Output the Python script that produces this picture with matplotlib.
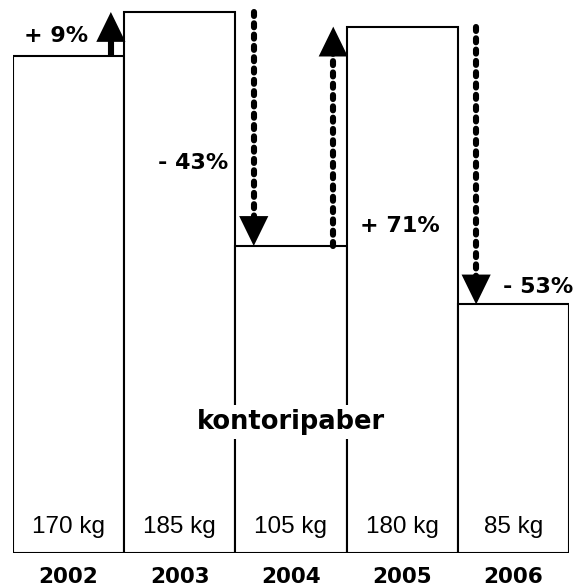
import matplotlib
matplotlib.use("Agg")
import matplotlib.pyplot as plt

years = ["2002", "2003", "2004", "2005", "2006"]
weights = [170, 185, 105, 180, 85]
weight_labels = ["170 kg", "185 kg", "105 kg", "180 kg", "85 kg"]
change_labels = ["+ 9%", "- 43%", "+ 71%", "- 53%"]
title_text = "kontoripaber"

W, H = 584, 588
fig = plt.figure(figsize=(W / 100, H / 100), dpi=100)
# axes spans the bars exactly: baseline at 553 px, 185 kg at 12 px from top
ax = fig.add_axes([13 / W, 35 / H, 556 / W, 553 / H])
px_per_kg = 541 / 185
ax.set_xlim(-0.5, 4.5)
ax.set_ylim(0, 553 / px_per_kg)
for s in ax.spines.values():
    s.set_visible(False)
ax.set_yticks([])

x = list(range(len(years)))
ax.bar(x, weights, width=1.0, color="white", edgecolor="black", linewidth=1.5, zorder=1)

ax.set_xticks(x)
ax.set_xticklabels(years, fontsize=15.5, fontweight="bold", family="DejaVu Sans")
ax.tick_params(axis="x", length=0, pad=10)

# weight labels near the bottom of each bar
for xi, lab in zip(x, weight_labels):
    ax.text(xi, 26 / px_per_kg, lab, ha="center", va="center", fontsize=17.5,
            family="Liberation Sans", zorder=3)

# change arrows between neighbouring bars
head_len_px = 30
label_frac = [0.45, 0.645, 0.09, 0.937]
for i, lab in enumerate(change_labels):
    start, end = weights[i], weights[i + 1]
    up = end > start
    ax_x = i + 0.5 + (-0.12 if up else 0.165)
    sign = 1 if up else -1
    shaft_end = end - sign * (head_len_px - 8) / px_per_kg
    ls = "-" if abs(end - start) < 30 else (0, (0.65, 1.2))
    ax.plot([ax_x, ax_x], [start, shaft_end], color="black", lw=4.4,
            linestyle=ls, dash_capstyle="round",
            solid_capstyle="butt", zorder=4, clip_on=False)
    ax.annotate("", xy=(ax_x, end), xytext=(0, -sign * head_len_px),
                textcoords="offset pixels",
                arrowprops=dict(arrowstyle="-|>,head_length=2.15,head_width=1.05",
                                lw=0, color="black", shrinkA=0, shrinkB=0),
                zorder=5, annotation_clip=False)
    ly = start + label_frac[i] * (end - start)
    if i == 0 or i == 1:
        ax.text(ax_x - 0.2 - (0.03 if i == 1 else 0), ly, lab, ha="right", va="center",
                fontsize=16, fontweight="bold", family="DejaVu Sans", zorder=6)
    else:
        ax.text(ax_x + 0.245, ly, lab, ha="left", va="center",
                fontsize=16, fontweight="bold", family="DejaVu Sans", zorder=6)

ax.text(2, (553 - 422) / px_per_kg, title_text, ha="center", va="center",
        fontsize=18.5, fontweight="bold", family="DejaVu Sans", zorder=6,
        bbox=dict(boxstyle="square,pad=0.15", facecolor="white", edgecolor="none"))

fig.savefig("out.png", dpi=100)
